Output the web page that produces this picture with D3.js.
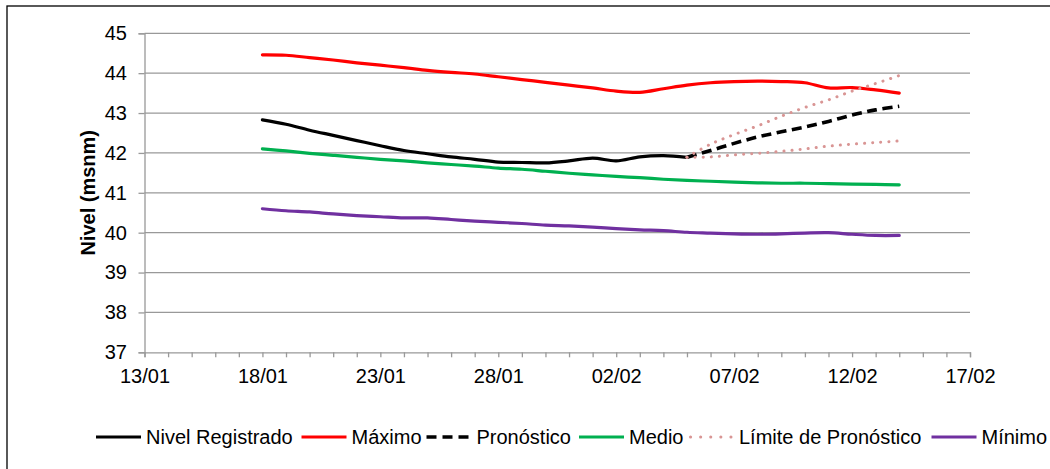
<!DOCTYPE html>
<html>
<head>
<meta charset="utf-8">
<script src="https://cdn.jsdelivr.net/npm/d3@7"></script>
<style>
  html, body { margin: 0; padding: 0; background: #fff; }
  svg { display: block; font-family: "Liberation Sans", Arial, sans-serif; }
</style>
</head>
<body>
<svg id="chart" width="1050" height="469"></svg>
<script>
// ---------- data ----------
const dates = ["18/01","19/01","20/01","21/01","22/01","23/01","24/01","25/01","26/01","27/01",
  "28/01","29/01","30/01","31/01","01/02","02/02","03/02","04/02","05/02","06/02",
  "07/02","08/02","09/02","10/02","11/02","12/02","13/02","14/02"];
const registeredDates = dates.slice(0, 19);          // 18/01 .. 05/02
const forecastDates = dates.slice(18);               // 05/02 .. 14/02

const nivelRegistrado = [42.83, 42.72, 42.57, 42.44, 42.31, 42.18, 42.06, 41.98, 41.90, 41.84,
  41.77, 41.76, 41.75, 41.80, 41.87, 41.80, 41.90, 41.93, 41.89];
const maximo = [44.46, 44.45, 44.39, 44.33, 44.26, 44.20, 44.14, 44.07, 44.02, 43.98,
  43.91, 43.84, 43.77, 43.70, 43.63, 43.55, 43.52, 43.61, 43.70, 43.76,
  43.79, 43.80, 43.79, 43.76, 43.63, 43.64, 43.58, 43.50];
const medio = [42.10, 42.05, 41.99, 41.94, 41.89, 41.84, 41.80, 41.75, 41.71, 41.67,
  41.62, 41.59, 41.54, 41.49, 41.45, 41.41, 41.38, 41.34, 41.31, 41.29,
  41.27, 41.25, 41.24, 41.24, 41.23, 41.22, 41.21, 41.20];
const minimo = [40.60, 40.55, 40.52, 40.47, 40.43, 40.40, 40.37, 40.37, 40.33, 40.29,
  40.26, 40.23, 40.19, 40.17, 40.14, 40.10, 40.07, 40.05, 40.01, 39.99,
  39.97, 39.96, 39.97, 39.99, 40.00, 39.96, 39.93, 39.93];
const pronostico = [41.89, 42.06, 42.24, 42.40, 42.53, 42.65, 42.79, 42.95, 43.08, 43.17];
const limiteSuperior = [41.89, 42.22, 42.46, 42.68, 42.92, 43.14, 43.33, 43.55, 43.74, 43.94];
const limiteInferior = [41.89, 41.90, 41.95, 41.99, 42.04, 42.10, 42.17, 42.22, 42.26, 42.30];

const yTicks = [37, 38, 39, 40, 41, 42, 43, 44, 45];
const xTickLabels = ["13/01","18/01","23/01","28/01","02/02","07/02","12/02","17/02"];
const yTitle = "Nivel (msnm)";
const legendNames = ["Nivel Registrado", "Máximo", "Pronóstico", "Medio", "Límite de Pronóstico", "Mínimo"];

// ---------- setup ----------
const parse = d3.timeParse("%d/%m");
const fmt = d3.timeFormat("%d/%m");
const svg = d3.select("#chart");
const FONT = 20;

svg.append("rect").attr("x", 0).attr("y", 0).attr("width", 1050).attr("height", 469).attr("fill", "#fff");
svg.append("rect").attr("x", 7).attr("y", 6).attr("width", 1060).attr("height", 480)
  .attr("fill", "none").attr("stroke", "#000").attr("stroke-width", 1.3);

const x = d3.scaleTime()
  .domain([parse(xTickLabels[0]), parse(xTickLabels[xTickLabels.length - 1])])
  .range([144.5, 970]);
const y = d3.scaleLinear().domain([37, 45]).range([352.3, 33.3]);

// gridlines
svg.append("g").selectAll("line").data(yTicks.slice(1)).join("line")
  .attr("x1", x.range()[0]).attr("x2", x.range()[1])
  .attr("y1", d => y(d)).attr("y2", d => y(d))
  .attr("stroke", "#999").attr("stroke-width", 1.3);

// y axis
const yAxis = svg.append("g").attr("transform", `translate(${x.range()[0]},0)`)
  .call(d3.axisLeft(y).tickValues(yTicks).tickSize(6).tickPadding(11.5).tickFormat(d3.format("d")));
yAxis.select(".domain").attr("stroke", "#999").attr("stroke-width", 1.3);
yAxis.selectAll(".tick line").attr("stroke", "#999").attr("stroke-width", 1.3);
yAxis.selectAll("text").attr("font-size", FONT).attr("fill", "#000")
  .attr("font-family", "Liberation Sans, Arial, sans-serif");

// x axis
const dayTicks = d3.timeDay.range(x.domain()[0], d3.timeDay.offset(x.domain()[1], 1));
const xAxis = svg.append("g").attr("transform", `translate(0,${y(37)})`)
  .call(d3.axisBottom(x).tickValues(dayTicks).tickSize(5).tickPadding(12)
    .tickFormat(d => xTickLabels.includes(fmt(d)) ? fmt(d) : ""));
xAxis.select(".domain").attr("stroke", "#999").attr("stroke-width", 1.3);
xAxis.selectAll(".tick line").attr("stroke", "#999").attr("stroke-width", 1.3);
xAxis.selectAll("text").attr("font-size", FONT).attr("fill", "#000")
  .attr("font-family", "Liberation Sans, Arial, sans-serif");

// y title
svg.append("text")
  .attr("transform", `translate(95,${(y(37) + y(45)) / 2}) rotate(-90)`)
  .attr("text-anchor", "middle").attr("font-size", FONT).attr("font-weight", "bold")
  .text(yTitle);

// ---------- series ----------
const line = d3.line().x(d => x(d[0])).y(d => y(d[1])).curve(d3.curveCatmullRom.alpha(0.5));
const zip = (ds, vs) => ds.map((d, i) => [parse(d), vs[i]]);

const styles = {
  nivel: { stroke: "#000000", width: 3.2, dash: null, cap: "round" },
  maximo: { stroke: "#FF0000", width: 3.2, dash: null, cap: "round" },
  pron: { stroke: "#000000", width: 3.6, dash: "10 5.5", cap: "butt" },
  medio: { stroke: "#00B050", width: 3.2, dash: null, cap: "round" },
  lim: { stroke: "#D99594", width: 3, dash: "0.1 8", cap: "round" },
  minimo: { stroke: "#7030A0", width: 3.2, dash: null, cap: "round" }
};
const series = [
  { data: zip(registeredDates, nivelRegistrado), s: styles.nivel },
  { data: zip(dates, maximo), s: styles.maximo },
  { data: zip(forecastDates, pronostico), s: styles.pron },
  { data: zip(dates, medio), s: styles.medio },
  { data: zip(forecastDates, limiteSuperior), s: styles.lim },
  { data: zip(forecastDates, limiteInferior), s: styles.lim },
  { data: zip(dates, minimo), s: styles.minimo }
];
svg.append("g").selectAll("path").data(series).join("path")
  .attr("d", d => line(d.data))
  .attr("fill", "none")
  .attr("stroke", d => d.s.stroke)
  .attr("stroke-width", d => d.s.width)
  .attr("stroke-dasharray", d => d.s.dash)
  .attr("stroke-linecap", d => d.s.cap)
  .attr("stroke-linejoin", "round");

// ---------- legend ----------
const legendStyles = [styles.nivel, styles.maximo, styles.pron, styles.medio,
  { ...styles.lim, dash: "0.1 10" }, styles.minimo];
const legendX = [96, 301.5, 426.5, 579, 690.5, 931.5];
const legend = svg.append("g");
legendNames.forEach((name, i) => {
  const st = legendStyles[i];
  const g = legend.append("g").attr("transform", `translate(${legendX[i]},437)`);
  g.append("line").attr("x1", 0).attr("x2", st.dash && st.dash.startsWith("0.1") ? 41 : 45)
    .attr("y1", 0).attr("y2", 0)
    .attr("stroke", st.stroke).attr("stroke-width", st.width)
    .attr("stroke-dasharray", st.dash === "10 5.5" ? "10 6" : st.dash)
    .attr("stroke-linecap", st.dash && st.dash.startsWith("0.1") ? "round" : "butt");
  g.append("text").attr("x", i === 4 ? 48.5 : 50).attr("y", 6.8)
    .attr("font-size", FONT).attr("fill", "#000").text(name);
});
</script>
</body>
</html>
